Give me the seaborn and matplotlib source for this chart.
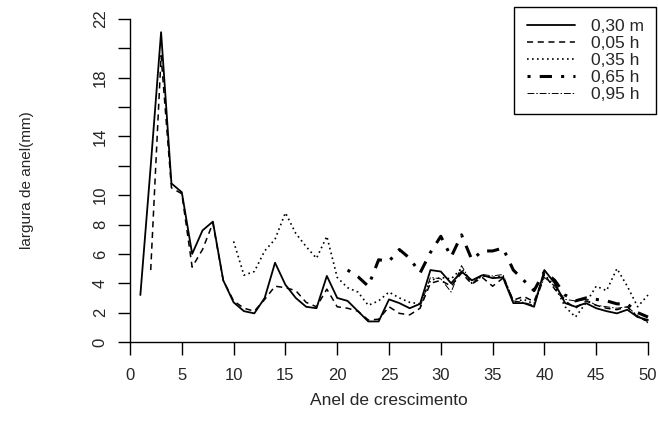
import numpy as np
import pandas as pd
import matplotlib
matplotlib.use("Agg")
import matplotlib.pyplot as plt
import seaborn as sns

# ---- data ----
years_030m = list(range(1, 51))
val_030m = [3.2, 12.0, 21.1, 10.8, 10.2, 6.0, 7.6, 8.2, 4.2, 2.7,
            2.1, 1.95, 3.0, 5.4, 3.9, 3.0, 2.4, 2.3, 4.5, 3.0,
            2.8, 2.1, 1.4, 1.4, 2.9, 2.65, 2.3, 2.6, 4.9, 4.8,
            4.0, 4.8, 4.2, 4.55, 4.35, 4.4, 2.65, 2.65, 2.4, 4.9,
            4.0, 2.65, 2.4, 2.65, 2.3, 2.1, 1.95, 2.2, 1.7, 1.5]

years_005h = list(range(2, 51))
val_005h = [4.9, 19.5, 10.5, 10.1, 5.1, 6.3, 8.1, 4.2, 2.8,
            2.3, 2.1, 2.9, 3.8, 3.7, 3.5, 2.7, 2.4, 3.6, 2.4,
            2.3, 2.1, 1.5, 1.55, 2.4, 1.95, 1.85, 2.3, 4.0, 4.2,
            3.8, 4.7, 3.95, 4.4, 3.8, 4.35, 2.85, 3.1, 2.75, 4.6,
            3.6, 2.8, 2.3, 2.8, 2.5, 2.3, 2.2, 2.4, 1.7, 1.4]

years_035h = list(range(10, 51))
val_035h = [6.85, 4.55, 4.8, 6.2, 7.0, 8.8, 7.4, 6.5, 5.7, 7.2,
            4.4, 3.7, 3.4, 2.5, 2.8, 3.4, 3.0, 2.7, 2.6, 4.2,
            4.4, 4.3, 5.0, 4.0, 4.5, 4.4, 4.5, 2.7, 2.9, 2.6,
            4.6, 3.8, 2.4, 1.7, 2.65, 3.8, 3.5, 5.0, 3.8, 2.4, 3.2]

years_065h = list(range(21, 51))
val_065h = [4.9, 4.45, 3.8, 5.6, 5.5, 6.3, 5.7, 4.7, 6.1, 7.2,
            5.8, 7.3, 5.6, 6.2, 6.2, 6.4, 4.9, 4.2, 3.5, 4.8,
            4.2, 3.2, 2.8, 3.0, 2.9, 2.8, 2.6, 2.6, 2.0, 1.7]

years_095h = list(range(28, 51))
val_095h = [2.4, 4.4, 4.3, 3.4, 5.2, 4.0, 4.6, 4.5, 4.6, 2.8,
            2.7, 2.5, 4.4, 3.8, 2.9, 2.8, 2.9, 2.5, 2.4, 2.3,
            2.4, 1.8, 1.3]

labels = ["0,30 m", "0,05 h", "0,35 h", "0,65 h", "0,95 h"]
x_ticks = [0, 5, 10, 15, 20, 25, 30, 35, 40, 45, 50]
y_ticks = [0, 2, 4, 6, 8, 10, 12, 14, 16, 18, 20, 22]
y_ticklabels = ["0", "2", "4", "6", "8", "10", "", "14", "", "18", "", "22"]

sns.set_style("white")
plt.rcParams["font.family"] = ["Liberation Sans", "DejaVu Sans"]

fig = plt.figure(figsize=(6.58, 4.30), dpi=100)
ax = fig.add_axes([130 / 658, 1 - 342 / 430, (648 - 130) / 658, (342 - 19) / 430])

series = [
    (years_030m, val_030m, labels[0], dict(linestyle="-", linewidth=1.3)),
    (years_005h, val_005h, labels[1], dict(linestyle=(0, (4, 3)), linewidth=1.1)),
    (years_035h, val_035h, labels[2], dict(linestyle=(0, (1, 2)), linewidth=1.2)),
    (years_065h, val_065h, labels[3], dict(linestyle=(0, (1, 3, 4, 3)), linewidth=2.2)),
    (years_095h, val_095h, labels[4], dict(linestyle=(0, (7, 2, 1.5, 2)), linewidth=0.7)),
]
for xs, ys, lab, st in series:
    df = pd.DataFrame({"ano": xs, "largura": ys})
    sns.lineplot(data=df, x="ano", y="largura", ax=ax, color="black",
                 label=lab, clip_on=False, **st)

ax.set_xlim(0, 50)
ax.set_ylim(0, 22)
ax.set_xticks(x_ticks)
ax.set_xticklabels([str(t) for t in x_ticks], fontsize=12)
ax.set_yticks(y_ticks)
ax.set_yticklabels(y_ticklabels, fontsize=12, rotation=90, va="center")
ax.tick_params(axis="x", direction="out", length=9, width=1, color="black",
               pad=10, bottom=True)
ax.tick_params(axis="y", direction="out", length=9, width=1, color="black",
               pad=7, left=True)
for s in ["top", "right"]:
    ax.spines[s].set_visible(False)
for s in ["left", "bottom"]:
    ax.spines[s].set_color("black")
    ax.spines[s].set_linewidth(1)

ax.set_xlabel("Anel de crescimento", fontsize=12.5, labelpad=7)
ax.set_ylabel("largura de anel(mm)", fontsize=11, labelpad=42)

leg = ax.legend(loc="upper right", bbox_to_anchor=(656 / 658, 1 - 7 / 430),
                bbox_transform=fig.transFigure, frameon=True, fancybox=False,
                edgecolor="black", fontsize=12.5, handlelength=2.8,
                labelspacing=0.1, borderpad=0.7, handletextpad=0.9,
                borderaxespad=0)
leg.get_frame().set_linewidth(1.0)
leg.get_frame().set_alpha(1)

fig.savefig("out.png", dpi=100)
